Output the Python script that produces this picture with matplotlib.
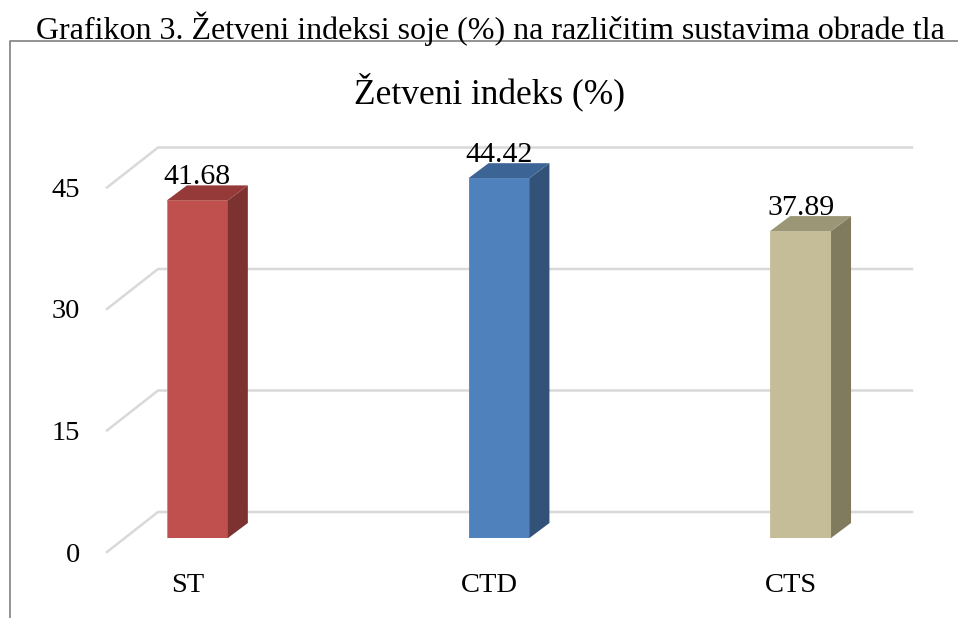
import matplotlib.pyplot as plt
from matplotlib.patches import Polygon

# podaci
categories = ["ST", "CTD", "CTS"]
values = [41.68, 44.42, 37.89]
y_ticks = [0, 15, 30, 45]

front_colors = ["#C0504D", "#4F81BD", "#C4BD97"]
side_colors = ["#7C3230", "#325278", "#807B5F"]
top_colors = ["#953A38", "#3C6494", "#9B9676"]

plt.rcParams['font.family'] = ['Liberation Serif', 'DejaVu Serif']

fig = plt.figure(figsize=(9.58, 6.18), dpi=100)
W, H = 958, 618

# ravnina prednje strane stupaca
ax = fig.add_axes([125 / W, 80 / H, 754 / W, 405 / H])
ax.set_xlim(-0.24, 2.26)
ax.set_ylim(0, 50)
ax.axis('off')


def shift(x, y, dx, dy):
    """Pomak točke (x, y) u podacima za dx, dy piksela."""
    px, py = ax.transData.transform((x, y))
    return ax.transData.inverted().transform((px + dx, py + dy))


back = (33, 26)     # stražnji zid
front = (-18, -14)  # prednji rub poda
depth = (20, 15)    # dubina stupca
grid_color = "#D9D9D9"

x0, x1 = ax.get_xlim()
for v in y_ticks:
    bl = shift(x0, v, *back)
    br = shift(x1, v, *back)
    fl = shift(x0, v, *front)
    ax.plot([fl[0], bl[0], br[0]], [fl[1], bl[1], br[1]], color=grid_color,
            lw=1.8, clip_on=False, zorder=1)
    lp = shift(x0, v, front[0] - 27, front[1] - 3)
    ax.text(lp[0], lp[1], str(v), ha='right', va='center', fontsize=20.5)

width = 0.202
for i, (cat, v) in enumerate(zip(categories, values)):
    xl, xr = i - width / 2, i + width / 2
    ax.bar(i, v, width=width, color=front_colors[i],
           edgecolor="#D9807E" if i == 0 else front_colors[i],
           linewidth=0.6, zorder=3)
    d_br = shift(xr, 0, *depth)
    d_tr = shift(xr, v, *depth)
    d_tl = shift(xl, v, *depth)
    side = Polygon([(xr, 0), (xr, v), d_tr, d_br], closed=True,
                   facecolor=side_colors[i], edgecolor='none', zorder=3)
    top = Polygon([(xl, v), (xr, v), d_tr, d_tl], closed=True,
                  facecolor=top_colors[i], edgecolor='none', zorder=3)
    ax.add_patch(side)
    ax.add_patch(top)

    lab = shift(i, v, 0, 16)
    ax.text(lab[0], lab[1], f"{v:.2f}", ha='center', va='baseline', fontsize=21.5, zorder=4)

    cp = shift(i, 0, -10, -47)
    ax.text(cp[0], cp[1], cat, ha='center', va='center', fontsize=20.5)

# naslovi
fig.text(490 / W, 1 - 29 / H, "Grafikon 3. Žetveni indeksi soje (%) na različitim sustavima obrade tla",
         ha='center', va='center', fontsize=23)
fig.text(490 / W, 1 - 92 / H, "Žetveni indeks (%)", ha='center', va='center', fontsize=25.5)

# okvir grafikona
fig.add_artist(plt.Line2D([10 / W, 10 / W, 1], [0, 1 - 41 / H, 1 - 41 / H],
                          color="#808080", lw=1.2))

fig.savefig("out.png", dpi=100)
